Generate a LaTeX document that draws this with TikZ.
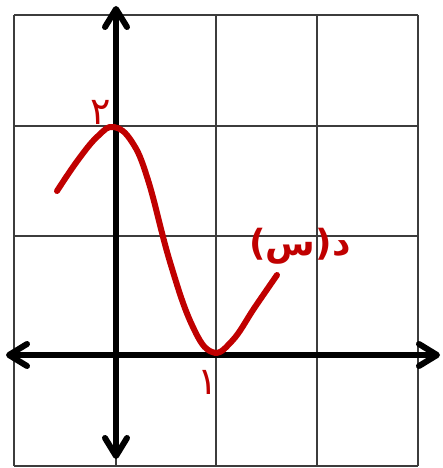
\documentclass[tikz,border=0pt]{standalone}
\usepackage{fontspec}
\usepackage{xcolor}
\usepackage{tikz}
\usetikzlibrary{arrows.meta}
\TeXXeTstate=1
\newfontfamily\arabicfont[Script=Arabic]{DejaVu Sans}
\definecolor{curvered}{RGB}{192, 0, 0}
\definecolor{gridgray}{RGB}{60, 60, 60}

\begin{document}
\begin{tikzpicture}[
    x=1pt, y=-1pt,
    gridline/.style={draw=gridgray, line width=1.5pt},
    axis/.style={line width=6pt, {Straight Barb[round, length=18pt, width=22pt]}-{Straight Barb[round, length=18pt, width=22pt]}},
    curve/.style={draw=curvered, line width=6pt, line cap=round},
    lbl/.style={text=curvered, inner sep=0pt, font=\arabicfont\fontsize{38}{38}\selectfont}
]
    \useasboundingbox (0,0) rectangle (443,468);

    \foreach \x in {14,116,216,317,418}
        \draw[gridline] (\x,15) -- (\x,466);
    \foreach \y in {15,126,236,355,466}
        \draw[gridline] (14,\y) -- (418,\y);

    \coordinate (xleft) at (6,355);
    \coordinate (xright) at (440,355);
    \coordinate (ytop) at (116,6);
    \coordinate (ybottom) at (116,459);
    \draw[axis] (xleft) -- (xright);
    \draw[axis] (ybottom) -- (ytop);

    \draw[curve] plot[smooth, tension=0.7] coordinates {
        (57,191) (78,160) (98,136) (114,127) (132,142) (148,180)
        (170,262) (192,325) (212,352) (232,341) (255,307) (277,275)};

    \node[lbl] (peak) at (101,112) {٢};
    \node[lbl] (trough) at (208,382) {١};
    \node[lbl, font=\arabicfont\bfseries\fontsize{36}{36}\selectfont] (fx) at (300,246) {\beginR د(س)\endR};
\end{tikzpicture}
\end{document}
